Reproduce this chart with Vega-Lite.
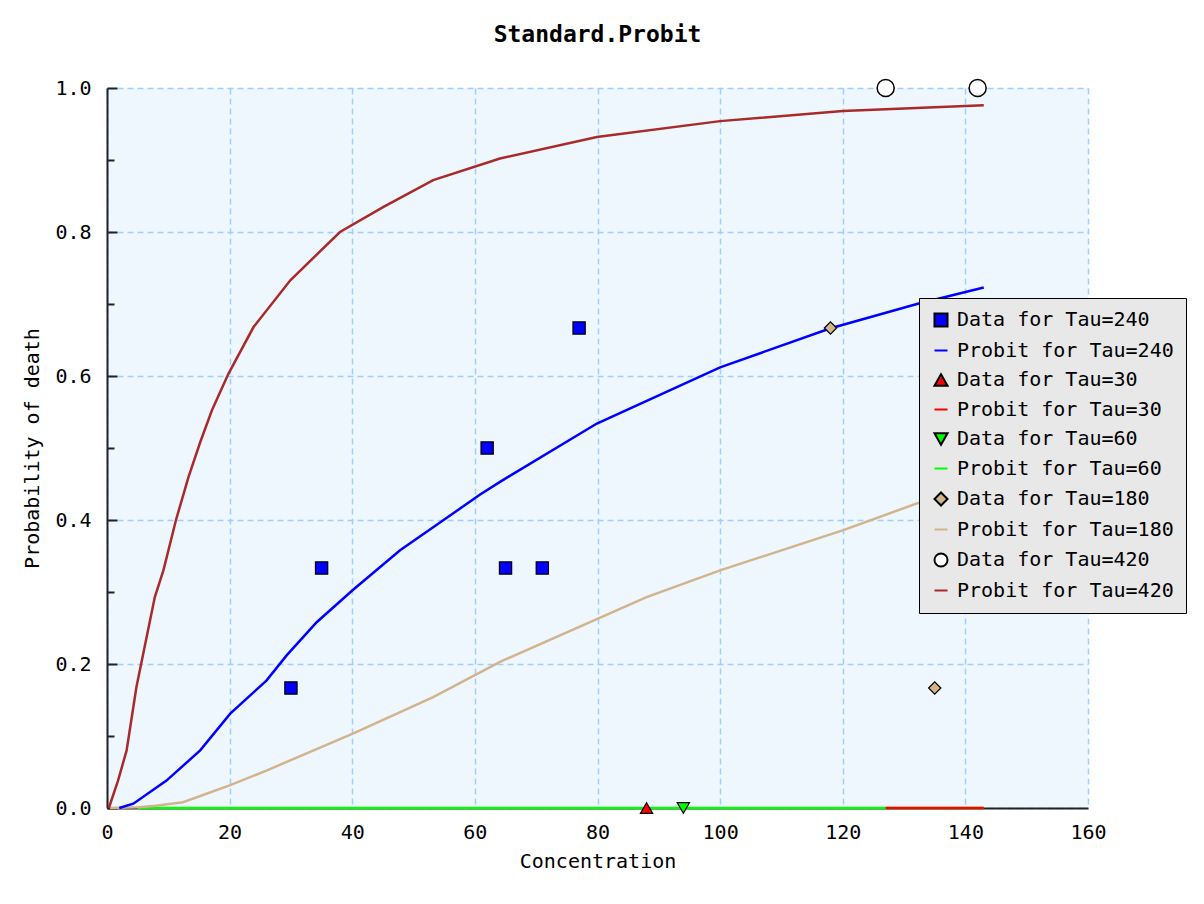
{
  "$schema": "https://vega.github.io/schema/vega-lite/v6.json",
  "autosize": {"type": "none"},
  "width": 981,
  "height": 720,
  "padding": {"left": 107, "top": 88, "right": 116, "bottom": 96},
  "background": "white",
  "title": {"text": "Standard.Probit", "font": "DejaVu Sans Mono", "fontSize": 23, "fontWeight": "bold", "color": "black", "anchor": "middle", "frame": "group", "offset": 29},
  "config": {"view": {"fill": "#eef6fe", "stroke": null}, "font": "DejaVu Sans Mono"},
  "datasets": {
    "curves": [
      {"series": "Probit for Tau=60", "c": 5, "p": 0},
      {"series": "Probit for Tau=60", "c": 143, "p": 0},
      {"series": "Probit for Tau=30", "c": 127, "p": 0},
      {"series": "Probit for Tau=30", "c": 143, "p": 0},
      {"series": "Probit for Tau=180", "c": 0.5, "p": 0},
      {"series": "Probit for Tau=180", "c": 5, "p": 0.001},
      {"series": "Probit for Tau=180", "c": 8, "p": 0.003},
      {"series": "Probit for Tau=180", "c": 12.4, "p": 0.008},
      {"series": "Probit for Tau=180", "c": 20, "p": 0.0315},
      {"series": "Probit for Tau=180", "c": 26, "p": 0.052},
      {"series": "Probit for Tau=180", "c": 40, "p": 0.103},
      {"series": "Probit for Tau=180", "c": 53.2, "p": 0.154},
      {"series": "Probit for Tau=180", "c": 64.1, "p": 0.203},
      {"series": "Probit for Tau=180", "c": 88, "p": 0.293},
      {"series": "Probit for Tau=180", "c": 100, "p": 0.33},
      {"series": "Probit for Tau=180", "c": 120.1, "p": 0.386},
      {"series": "Probit for Tau=180", "c": 132.1, "p": 0.423},
      {"series": "Probit for Tau=180", "c": 143, "p": 0.45},
      {"series": "Probit for Tau=240", "c": 2, "p": 0},
      {"series": "Probit for Tau=240", "c": 4.3, "p": 0.006},
      {"series": "Probit for Tau=240", "c": 9.7, "p": 0.038},
      {"series": "Probit for Tau=240", "c": 15.2, "p": 0.08},
      {"series": "Probit for Tau=240", "c": 20.1, "p": 0.131},
      {"series": "Probit for Tau=240", "c": 26, "p": 0.177},
      {"series": "Probit for Tau=240", "c": 29.3, "p": 0.212},
      {"series": "Probit for Tau=240", "c": 34.2, "p": 0.258},
      {"series": "Probit for Tau=240", "c": 40, "p": 0.302},
      {"series": "Probit for Tau=240", "c": 47.8, "p": 0.358},
      {"series": "Probit for Tau=240", "c": 54.9, "p": 0.40},
      {"series": "Probit for Tau=240", "c": 60.8, "p": 0.435},
      {"series": "Probit for Tau=240", "c": 64.1, "p": 0.453},
      {"series": "Probit for Tau=240", "c": 79.9, "p": 0.534},
      {"series": "Probit for Tau=240", "c": 100, "p": 0.612},
      {"series": "Probit for Tau=240", "c": 117.9, "p": 0.666},
      {"series": "Probit for Tau=240", "c": 132.1, "p": 0.70},
      {"series": "Probit for Tau=240", "c": 143, "p": 0.723},
      {"series": "Probit for Tau=420", "c": 0.3, "p": 0},
      {"series": "Probit for Tau=420", "c": 1.8, "p": 0.038},
      {"series": "Probit for Tau=420", "c": 3.2, "p": 0.08},
      {"series": "Probit for Tau=420", "c": 4.8, "p": 0.168},
      {"series": "Probit for Tau=420", "c": 5.9, "p": 0.214},
      {"series": "Probit for Tau=420", "c": 7.8, "p": 0.293},
      {"series": "Probit for Tau=420", "c": 9.2, "p": 0.33},
      {"series": "Probit for Tau=420", "c": 11.25, "p": 0.40},
      {"series": "Probit for Tau=420", "c": 13.3, "p": 0.46},
      {"series": "Probit for Tau=420", "c": 15.2, "p": 0.508},
      {"series": "Probit for Tau=420", "c": 17.1, "p": 0.552},
      {"series": "Probit for Tau=420", "c": 19.8, "p": 0.603},
      {"series": "Probit for Tau=420", "c": 23.9, "p": 0.668},
      {"series": "Probit for Tau=420", "c": 29.9, "p": 0.733},
      {"series": "Probit for Tau=420", "c": 38, "p": 0.80},
      {"series": "Probit for Tau=420", "c": 45.1, "p": 0.835},
      {"series": "Probit for Tau=420", "c": 53.2, "p": 0.872},
      {"series": "Probit for Tau=420", "c": 64.1, "p": 0.902},
      {"series": "Probit for Tau=420", "c": 79.9, "p": 0.932},
      {"series": "Probit for Tau=420", "c": 100, "p": 0.954},
      {"series": "Probit for Tau=420", "c": 120, "p": 0.968},
      {"series": "Probit for Tau=420", "c": 143, "p": 0.976}
    ],
    "points": [
      {"series": "Data for Tau=240", "c": 30, "p": 0.1667},
      {"series": "Data for Tau=240", "c": 35, "p": 0.3333},
      {"series": "Data for Tau=240", "c": 62, "p": 0.5},
      {"series": "Data for Tau=240", "c": 65, "p": 0.3333},
      {"series": "Data for Tau=240", "c": 71, "p": 0.3333},
      {"series": "Data for Tau=240", "c": 77, "p": 0.6667},
      {"series": "Data for Tau=30", "c": 88, "p": 0},
      {"series": "Data for Tau=60", "c": 94, "p": 0},
      {"series": "Data for Tau=180", "c": 118, "p": 0.6667},
      {"series": "Data for Tau=180", "c": 135, "p": 0.1667},
      {"series": "Data for Tau=420", "c": 127, "p": 1},
      {"series": "Data for Tau=420", "c": 142, "p": 1}
    ]
  },
  "encoding": {
    "x": {
      "field": "c", "type": "quantitative",
      "scale": {"domain": [0, 160], "nice": false, "zero": false},
      "axis": {
        "values": [0, 20, 40, 60, 80, 100, 120, 140, 160],
        "title": "Concentration", "titleFont": "DejaVu Sans Mono", "titleFontSize": 20, "titleFontWeight": "normal", "titleColor": "black", "titlePadding": 9,
        "labelFont": "DejaVu Sans Mono", "labelFontSize": 20, "labelColor": "black", "labelPadding": 14, "labelFlush": false,
        "ticks": false, "domainColor": "#222", "domainWidth": 2,
        "gridColor": "#9fcfff", "gridDash": [6, 4], "gridWidth": 1.5
      }
    },
    "y": {
      "field": "p", "type": "quantitative",
      "scale": {"domain": [0, 1], "nice": false},
      "axis": {
        "values": [0, 0.1, 0.2, 0.3, 0.4, 0.5, 0.6, 0.7, 0.8, 0.9, 1.0],
        "title": "Probability of death", "titleFont": "DejaVu Sans Mono", "titleFontSize": 20, "titleFontWeight": "normal", "titleColor": "black", "titlePadding": 12,
        "labelExpr": "round(datum.value*10)%2===0 ? format(datum.value,'.1f') : ''",
        "labelFont": "DejaVu Sans Mono", "labelFontSize": 20, "labelColor": "black", "labelPadding": 26, "labelFlush": false,
        "tickSize": {"condition": {"test": "round(datum.value*10)%2===0", "value": -10}, "value": -7},
        "tickColor": "#222", "tickWidth": 2,
        "domainColor": "#222", "domainWidth": 2,
        "gridColor": "#9fcfff", "gridDash": [6, 4], "gridWidth": 1.5,
        "gridOpacity": {"condition": {"test": "round(datum.value*10)%2===1", "value": 0}, "value": 1}
      }
    }
  },
  "layer": [
    {
      "data": {"name": "curves"},
      "mark": {"type": "line", "strokeWidth": 2.5},
      "encoding": {
        "stroke": {
          "field": "series", "type": "nominal",
          "scale": {
            "domain": ["Data for Tau=240", "Probit for Tau=240", "Data for Tau=30", "Probit for Tau=30", "Data for Tau=60", "Probit for Tau=60", "Data for Tau=180", "Probit for Tau=180", "Data for Tau=420", "Probit for Tau=420"],
            "range": ["black", "#0000ff", "black", "#ff0000", "black", "#00ff00", "black", "#d2b48c", "black", "#aa2a2a"]
          },
          "legend": {
            "title": null, "orient": "none", "legendX": 812, "legendY": 210,
            "fillColor": "#e8e8e8", "strokeColor": "black",
            "padding": 12, "rowPadding": 9.5, "symbolSize": 170, "symbolStrokeWidth": 2,
            "labelFont": "DejaVu Sans Mono", "labelFontSize": 20, "labelColor": "black", "labelOffset": 6, "labelLimit": 400,
            "symbolOpacity": 1
          }
        }
      }
    },
    {
      "data": {"name": "points"},
      "transform": [{"filter": "datum.series !== 'Data for Tau=420'"}],
      "mark": {"type": "point", "filled": true, "stroke": "black", "strokeWidth": 1.2, "opacity": 1, "size": 150},
      "encoding": {
        "fill": {
          "field": "series", "type": "nominal",
          "scale": {
            "domain": ["Data for Tau=240", "Probit for Tau=240", "Data for Tau=30", "Probit for Tau=30", "Data for Tau=60", "Probit for Tau=60", "Data for Tau=180", "Probit for Tau=180", "Data for Tau=420", "Probit for Tau=420"],
            "range": ["#0000ff", "#0000ff", "#ff0000", "#ff0000", "#00ff00", "#00ff00", "#d2b48c", "#d2b48c", "#ffffff", "#aa2a2a"]
          }
        },
        "shape": {
          "field": "series", "type": "nominal",
          "scale": {
            "domain": ["Data for Tau=240", "Probit for Tau=240", "Data for Tau=30", "Probit for Tau=30", "Data for Tau=60", "Probit for Tau=60", "Data for Tau=180", "Probit for Tau=180", "Data for Tau=420", "Probit for Tau=420"],
            "range": ["square", "stroke", "triangle-up", "stroke", "triangle-down", "stroke", "diamond", "stroke", "circle", "stroke"]
          },
          "legend": null
        }
      }
    },
    {
      "data": {"name": "points"},
      "transform": [{"filter": "datum.series === 'Data for Tau=420'"}],
      "mark": {"type": "point", "filled": true, "stroke": "black", "strokeWidth": 1.5, "opacity": 1, "size": 290},
      "encoding": {
        "fill": {"field": "series", "type": "nominal"},
        "shape": {"field": "series", "type": "nominal", "legend": null}
      }
    }
  ]
}
